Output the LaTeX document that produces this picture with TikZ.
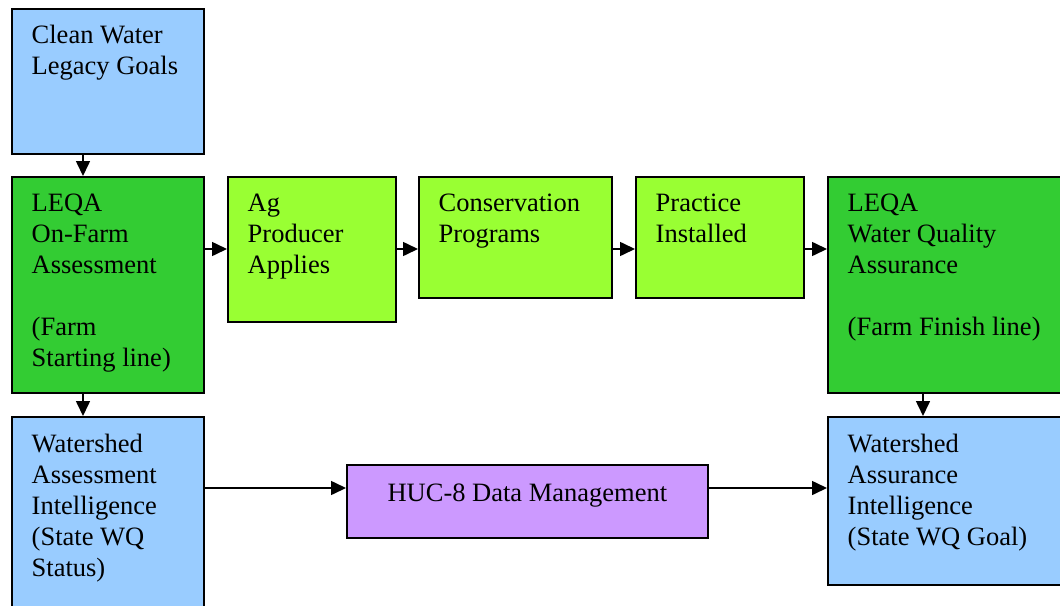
\documentclass[tikz,border=0pt]{standalone}
\usepackage{fontspec}
\setmainfont{Liberation Serif}
\newfontfamily\tnrfont{Liberation Serif}
\usetikzlibrary{arrows.meta,calc}
\newcommand{\mlines}[1]{\begin{tabular}[t]{@{}l@{}}#1\end{tabular}}
\definecolor{cwblue}{RGB}{153,204,255}
\definecolor{cwgreen}{RGB}{51,204,51}
\definecolor{cwlime}{RGB}{153,255,51}
\definecolor{cwpurple}{RGB}{204,153,255}
\begin{document}
\begin{tikzpicture}[x=1pt,y=-1pt,
  box/.style={draw=black, line width=1.8pt, rectangle, inner sep=0pt, anchor=north west},
  lbl/.style={anchor=base west, inner sep=0pt, font=\tnrfont\fontsize{26.5}{31}\selectfont},
  arr/.style={line width=1.6pt, -{Triangle[length=15pt,width=14pt]}}]
\useasboundingbox[fill=white] (0,0) rectangle (1060,605);
% boxes
\node[box, fill=cwblue, minimum width=192pt, minimum height=145pt] (A) at (11,8) {};
\node[box, fill=cwgreen, minimum width=192pt, minimum height=216pt] (B) at (11,176) {};
\node[box, fill=cwlime, minimum width=168pt, minimum height=145pt] (C) at (227,176) {};
\node[box, fill=cwlime, minimum width=193pt, minimum height=121pt] (D) at (418,176) {};
\node[box, fill=cwlime, minimum width=168pt, minimum height=121pt] (E) at (635,176) {};
\node[box, fill=cwgreen, minimum width=238pt, minimum height=216pt] (F) at (827,176) {};
\node[box, fill=cwblue, minimum width=192pt, minimum height=200pt] (G) at (11,416) {};
\node[box, fill=cwpurple, minimum width=361pt, minimum height=73pt] (H) at (346,464) {};
\node[box, fill=cwblue, minimum width=238pt, minimum height=168pt] (I) at (827,416) {};
% texts
\node[lbl] (At) at ($(A.north west)+(20.5,35)$) {\mlines{Clean Water\\Legacy Goals}};
\node[lbl] (Bt) at ($(B.north west)+(20.5,35)$) {\mlines{LEQA\\On-Farm\\Assessment\\ \\(Farm\\Starting line)}};
\node[lbl] (Ct) at ($(C.north west)+(20.5,35)$) {\mlines{Ag\\Producer\\Applies}};
\node[lbl] (Dt) at ($(D.north west)+(20.5,35)$) {\mlines{Conservation\\Programs}};
\node[lbl] (Et) at ($(E.north west)+(20.5,35)$) {\mlines{Practice\\Installed}};
\node[lbl] (Ft) at ($(F.north west)+(20.5,35)$) {\mlines{LEQA\\Water Quality\\Assurance\\ \\(Farm Finish line)}};
\node[lbl] (Gt) at ($(G.north west)+(20.5,36)$) {\mlines{Watershed\\Assessment\\Intelligence\\(State WQ\\Status)}};
\node[lbl] (It) at ($(I.north west)+(20.5,36)$) {\mlines{Watershed\\Assurance\\Intelligence\\(State WQ Goal)}};
\node[lbl, anchor=base] (Ht) at ($(H.north)+(0,37)$) {HUC-8 Data Management};
% connectors
\coordinate (r1) at (0,249);
\coordinate (r2) at (0,488);
\draw[arr] ($(A.south west)+(72,0)$) -- ($(B.north west)+(72,0)$);
\draw[arr] ($(B.south west)+(72,0)$) -- ($(G.north west)+(72,0)$);
\draw[arr] ($(F.south west)+(96,0)$) -- ($(I.north west)+(96,0)$);
\draw[arr] (B.east |- r1) -- (C.west |- r1);
\draw[arr] (C.east |- r1) -- (D.west |- r1);
\draw[arr] (D.east |- r1) -- (E.west |- r1);
\draw[arr] (E.east |- r1) -- (F.west |- r1);
\draw[arr] (G.east |- r2) -- (H.west |- r2);
\draw[arr] (H.east |- r2) -- (I.west |- r2);
\end{tikzpicture}
\end{document}
